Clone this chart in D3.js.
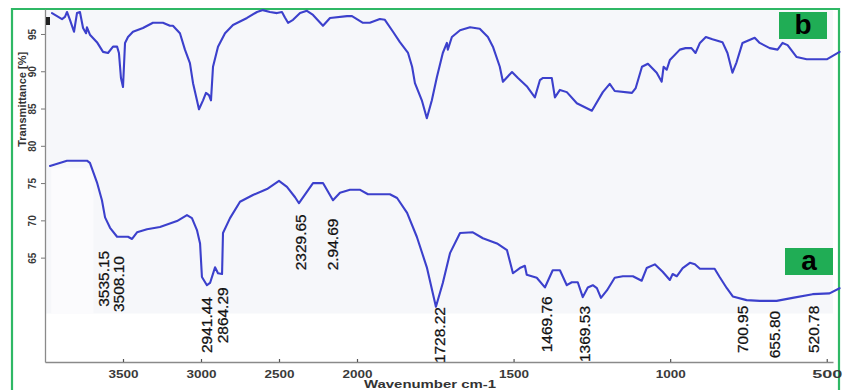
<!DOCTYPE html>
<html>
<head>
<meta charset="utf-8">
<script src="https://cdn.jsdelivr.net/npm/d3@7"></script>
<style>
html,body{margin:0;padding:0;background:#fff;}
svg{display:block;}
text{font-family:"Liberation Sans",Arial,sans-serif;}
</style>
</head>
<body>
<svg id="chart" width="843" height="390"></svg>
<script>
// ---- data (wavenumber cm-1, transmittance %) ----
const wavenumberA = [3968,3859,3731,3712,3667,3635,3615,3583,3538,3468,3442,3410,3346,3263,3154,3090,3058,3026,3006,2994,2962,2942,2910,2891,2865,2859,2814,2750,2667,2577,2500,2449,2397,2372,2282,2218,2154,2109,2045,1990,1965,1895,1872,1840,1809,1777,1748,1726,1703,1671,1630,1598,1553,1521,1502,1480,1464,1458,1426,1400,1375,1352,1330,1314,1295,1279,1263,1247,1234,1221,1202,1177,1151,1119,1091,1075,1049,1024,1001,992,979,960,937,921,905,858,842,819,800,756,714,660,609,545,491,459];
const transmittanceA = [77.3,78.0,78.0,77.7,75.1,72.7,70.4,69.0,67.8,67.8,67.5,68.4,68.8,69.1,69.9,70.7,70.3,68.7,66.9,62.4,61.3,61.6,63.7,62.9,62.8,68.3,70.3,72.5,73.4,74.2,75.3,74.5,73.1,72.3,75.0,75.0,72.7,73.7,74.1,74.1,73.5,73.5,73.0,71.0,67.8,63.7,58.4,61.6,65.6,68.3,68.4,67.6,66.9,66.0,62.9,63.6,63.9,62.7,62.3,61.0,63.3,63.3,61.3,61.7,61.7,59.7,61.0,61.3,60.9,59.6,60.6,62.3,62.5,62.5,61.9,63.6,64.1,63.1,62.0,62.8,62.5,63.6,64.3,64.1,63.5,63.5,62.4,60.9,59.8,59.3,59.2,59.2,59.6,60.1,60.2,60.9];

const wavenumberB = [3955,3891,3872,3859,3840,3814,3795,3776,3756,3737,3731,3712,3667,3628,3596,3564,3538,3526,3513,3500,3494,3487,3468,3436,3372,3308,3244,3199,3180,3135,3103,3071,3051,3026,3013,2987,2968,2949,2936,2923,2891,2846,2795,2705,2641,2603,2558,2513,2481,2462,2442,2410,2365,2321,2282,2218,2173,2064,2032,1981,1959,1927,1911,1885,1863,1837,1824,1815,1793,1777,1761,1745,1726,1713,1710,1697,1671,1639,1608,1582,1566,1544,1534,1505,1486,1458,1432,1416,1406,1378,1368,1352,1330,1298,1250,1215,1193,1177,1122,1110,1090,1071,1043,1027,1021,1011,1001,969,951,932,919,905,886,865,833,817,801,788,769,730,714,682,657,641,625,596,564,500,459];
const transmittanceB = [97.8,97.0,97.3,97.95,96.9,95.3,97.8,97.95,95.8,95.1,95.9,94.9,93.9,92.6,92.45,93.3,93.3,92.45,89.1,87.9,90.6,93.8,94.6,95.3,95.8,96.5,96.5,96.1,96.1,95.1,92.9,91.1,88.4,86.1,84.9,86.1,87.1,86.8,86.1,90.6,93.3,95.1,96.2,97.15,97.95,98.2,97.95,97.8,97.95,97.2,96.5,96.9,97.8,98.1,97.55,96.1,97.15,97.4,97.4,96.5,96.5,97.0,96.9,95.3,93.9,92.45,90.6,88.4,86.1,83.7,86.1,89.2,92.45,93.8,92.9,94.6,95.5,95.9,95.7,94.6,93.3,90.6,88.6,89.9,89.1,88.0,86.5,88.8,89.1,89.1,86.5,87.5,87.2,85.7,84.7,87.2,88.3,87.35,87.1,87.75,90.6,91.0,89.8,88.6,90.6,90.2,91.5,92.9,93.1,93.1,92.45,93.8,94.6,94.3,93.9,92.45,89.8,91.2,93.8,94.5,93.8,93.1,92.9,93.8,93.5,91.9,91.6,91.6,92.6];

const xTicks = [3500,3000,2500,2000,1500,1000,500];
const yTicks = [65,70,75,80,85,90,95];

const peakLabels = ["3535.15","3508.10","2941.44","2864.29","2329.65","2.94.69","1728.22","1469.76","1369.53","700.95","655.80","520.78"];
const peakPos    = [3628,3526,2962,2865,2365,2154,1738,1394,1272,768,666,542];
const peakBase   = [58.4,57.7,52.2,53.5,63.3,63.3,50.85,52.3,51.0,52.2,51.5,52.2];

const seriesNames = ["b","a"];

// ---- scales ----
const x = d3.scaleLinear().domain([4000,2000,480]).range([45,357,833]);
const y = d3.scaleLinear().domain([51,98.35]).range([362,9]);

const svg = d3.select("#chart");
const lineColor = "#3c40cc";
const green = "#20ad55";

// faint background tint of the scanned plot area
svg.append("rect").attr("x",x(4000)).attr("y",y(98.2)).attr("width",x(480)-x(4000)).attr("height",y(57.5)-y(98.2)).attr("fill","#f6f7fa");
svg.append("rect").attr("x",x(3960)).attr("y",y(77)).attr("width",x(3690)-x(3960)).attr("height",y(57.5)-y(77)).attr("fill","#fbfbfd");

// frame (green border)
svg.append("path").attr("d","M12,390 L12,9 L839,9 L839,390").attr("fill","none").attr("stroke","#2fb865").attr("stroke-width",2.2);

// axes
const xAxis = d3.axisBottom(x).tickValues(xTicks).tickFormat(d3.format("d")).tickSize(-3).tickSizeOuter(0).tickPadding(8.5);
const gx = svg.append("g").attr("transform",`translate(0,${y(51)})`).call(xAxis);
gx.select(".domain").attr("stroke","#8a8a8a").attr("stroke-width",1.5);
gx.selectAll(".tick line").attr("stroke","#555").attr("stroke-width",1.2);
gx.selectAll(".tick text").attr("font-size",10).attr("font-weight","bold").attr("fill","#3a3a3a")
  .attr("textLength",30).attr("lengthAdjust","spacingAndGlyphs");

const yAxis = d3.axisLeft(y).tickValues(yTicks).tickSize(4).tickSizeOuter(0).tickFormat(d3.format("d"));
const gy = svg.append("g").attr("transform",`translate(${x(4000)},0)`).call(yAxis);
gy.select(".domain").attr("stroke","#8a8a8a").attr("stroke-width",1.3);
gy.selectAll(".tick line").attr("stroke","#777");
gy.selectAll(".tick text").attr("font-size",10).attr("fill","#3a3a3a").attr("font-weight","bold")
  .attr("x",0).attr("dy",null)
  .attr("text-anchor","middle").attr("dominant-baseline","central")
  .attr("transform","translate(-13,0) rotate(-90)");

// small marker at top of axis
svg.append("rect").attr("x",x(4000)+1).attr("y",17).attr("width",4).attr("height",8).attr("fill","#222");

// axis titles
svg.append("text").attr("transform",`translate(22,${(y(98)+y(75))/2+2}) rotate(-90)`)
  .attr("text-anchor","middle").attr("dominant-baseline","central")
  .attr("font-size",10).attr("font-weight","bold").attr("fill","#333")
  .attr("textLength",95).attr("lengthAdjust","spacingAndGlyphs")
  .text("Transmittance [%]");
svg.append("text").attr("x",430).attr("y",388)
  .attr("text-anchor","middle").attr("font-size",10).attr("font-weight","bold").attr("fill","#333")
  .attr("textLength",132).attr("lengthAdjust","spacingAndGlyphs")
  .text("Wavenumber cm-1");

// spectra
const line = d3.line().x(d => x(d[0])).y(d => y(d[1])).curve(d3.curveLinear);
const dataB = wavenumberB.map((w,i) => [w, transmittanceB[i]]);
const dataA = wavenumberA.map((w,i) => [w, transmittanceA[i]]);
[dataB, dataA].forEach(d => {
  svg.append("path").datum(d).attr("d",line)
    .attr("fill","none").attr("stroke",lineColor).attr("stroke-width",2.1)
    .attr("stroke-linejoin","round").attr("stroke-linecap","round");
});

// peak labels
svg.append("g").selectAll("text").data(peakLabels).join("text")
  .attr("transform",(d,i) => `translate(${x(peakPos[i])},${y(peakBase[i])}) rotate(-90)`)
  .attr("text-anchor","start").attr("dominant-baseline","central")
  .attr("font-size",15.5).attr("fill","#111").attr("stroke","#111").attr("stroke-width",0.25)
  .text(d => d);

// series tags
const tagPos = [{x:779,y:12},{x:785,y:248}];
seriesNames.forEach((s,i) => {
  const g = svg.append("g").attr("transform",`translate(${tagPos[i].x},${tagPos[i].y})`);
  g.append("rect").attr("width",48).attr("height",27).attr("fill",green);
  g.append("text").attr("x",24).attr("y",22).attr("text-anchor","middle")
    .attr("font-size",28).attr("font-weight","bold").attr("fill","#000").text(s);
});
</script>
</body>
</html>
